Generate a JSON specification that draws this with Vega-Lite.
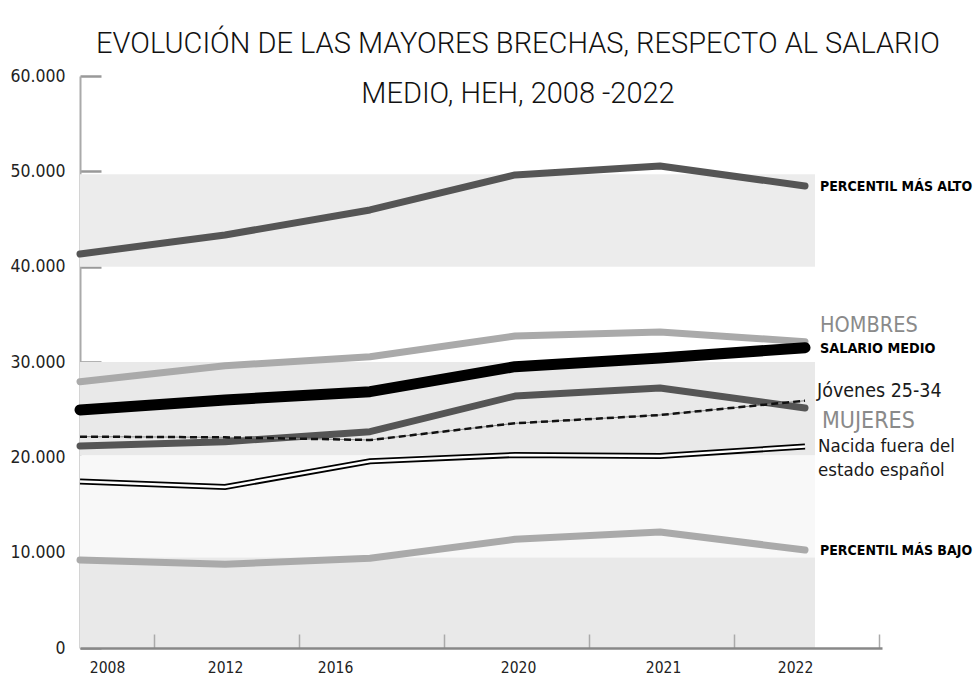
{
  "$schema": "https://vega.github.io/schema/vega-lite/v6.json",
  "autosize": {"type": "none"},
  "padding": {"left": 80, "top": 76, "right": 97, "bottom": 28},
  "width": 802,
  "height": 572,
  "background": "white",
  "title": {
    "text": ["EVOLUCIÓN DE LAS MAYORES BRECHAS, RESPECTO AL SALARIO", "MEDIO, HEH, 2008 -2022"],
    "anchor": "middle",
    "frame": "group",
    "dx": 37,
    "dy": 71,
    "offset": 0,
    "baseline": "bottom",
    "fontSize": 29,
    "lineHeight": 50,
    "font": "Roboto",
    "fontWeight": 300,
    "color": "#111111"
  },
  "datasets": {
    "bands": [
      {"y0": 40000, "y1": 49700, "tone": "plain"},
      {"y0": 20200, "y1": 30000, "tone": "hatched"},
      {"y0": 9500, "y1": 20200, "tone": "white"},
      {"y0": 0, "y1": 9500, "tone": "hatched"}
    ],
    "series": [
      {"serie": "PERCENTIL MÁS ALTO", "year": 2008, "value": 41330},
      {"serie": "PERCENTIL MÁS ALTO", "year": 2012, "value": 43320},
      {"serie": "PERCENTIL MÁS ALTO", "year": 2016, "value": 45950},
      {"serie": "PERCENTIL MÁS ALTO", "year": 2020, "value": 49620},
      {"serie": "PERCENTIL MÁS ALTO", "year": 2021, "value": 50560},
      {"serie": "PERCENTIL MÁS ALTO", "year": 2022, "value": 48460},
      {"serie": "HOMBRES", "year": 2008, "value": 27930},
      {"serie": "HOMBRES", "year": 2012, "value": 29600},
      {"serie": "HOMBRES", "year": 2016, "value": 30560},
      {"serie": "HOMBRES", "year": 2020, "value": 32730},
      {"serie": "HOMBRES", "year": 2021, "value": 33150},
      {"serie": "HOMBRES", "year": 2022, "value": 32130},
      {"serie": "SALARIO MEDIO", "year": 2008, "value": 24970},
      {"serie": "SALARIO MEDIO", "year": 2012, "value": 26020},
      {"serie": "SALARIO MEDIO", "year": 2016, "value": 26890},
      {"serie": "SALARIO MEDIO", "year": 2020, "value": 29510},
      {"serie": "SALARIO MEDIO", "year": 2021, "value": 30420},
      {"serie": "SALARIO MEDIO", "year": 2022, "value": 31500},
      {"serie": "MUJERES", "year": 2008, "value": 21190},
      {"serie": "MUJERES", "year": 2012, "value": 21640},
      {"serie": "MUJERES", "year": 2016, "value": 22690},
      {"serie": "MUJERES", "year": 2020, "value": 26430},
      {"serie": "MUJERES", "year": 2021, "value": 27270},
      {"serie": "MUJERES", "year": 2022, "value": 25180},
      {"serie": "Jóvenes 25-34", "year": 2008, "value": 22170},
      {"serie": "Jóvenes 25-34", "year": 2012, "value": 22100},
      {"serie": "Jóvenes 25-34", "year": 2016, "value": 21820},
      {"serie": "Jóvenes 25-34", "year": 2020, "value": 23570},
      {"serie": "Jóvenes 25-34", "year": 2021, "value": 24440},
      {"serie": "Jóvenes 25-34", "year": 2022, "value": 25940},
      {"serie": "Nacida fuera del estado español", "year": 2008, "value": 17470},
      {"serie": "Nacida fuera del estado español", "year": 2012, "value": 16890},
      {"serie": "Nacida fuera del estado español", "year": 2016, "value": 19590},
      {"serie": "Nacida fuera del estado español", "year": 2020, "value": 20250},
      {"serie": "Nacida fuera del estado español", "year": 2021, "value": 20140},
      {"serie": "Nacida fuera del estado español", "year": 2022, "value": 21140},
      {"serie": "PERCENTIL MÁS BAJO", "year": 2008, "value": 9230},
      {"serie": "PERCENTIL MÁS BAJO", "year": 2012, "value": 8780},
      {"serie": "PERCENTIL MÁS BAJO", "year": 2016, "value": 9410},
      {"serie": "PERCENTIL MÁS BAJO", "year": 2020, "value": 11400},
      {"serie": "PERCENTIL MÁS BAJO", "year": 2021, "value": 12170},
      {"serie": "PERCENTIL MÁS BAJO", "year": 2022, "value": 10280}
    ]
  },
  "layer": [
    {
      "data": {"name": "bands"},
      "mark": {"type": "rect", "x2Offset": 10},
      "encoding": {
        "x": {
          "datum": 2008,
          "type": "ordinal",
          "scale": {"type": "point", "padding": 0.2655, "align": 0},
          "axis": {
            "title": null,
            "grid": false,
            "labelAngle": 0,
            "tickOffset": 74,
            "tickSize": -14,
            "tickColor": "#aaaaaa",
            "tickWidth": 1.5,
            "domainColor": "#888888",
            "domainWidth": 2.5,
            "labelPadding": 26,
            "labelFontSize": 15.5,
            "labelColor": "#222222",
            "labelFont": "DejaVu Sans Condensed",
            "labelOffset": {
              "condition": [
                {"test": "datum.value == 2008", "value": -47},
                {"test": "datum.value == 2012", "value": -74},
                {"test": "datum.value == 2016", "value": -109},
                {"test": "datum.value == 2022", "value": -84}
              ],
              "value": -71
            }
          }
        },
        "x2": {"datum": 2022},
        "y": {
          "field": "y0",
          "type": "quantitative",
          "scale": {"domain": [0, 60000], "nice": false},
          "axis": {
            "title": null,
            "grid": false,
            "values": [0, 10000, 20000, 30000, 40000, 50000, 60000],
            "labelExpr": "replace(format(datum.value, ','), ',', '.')",
            "domainColor": "#aaaaaa",
            "domainWidth": 2,
            "tickColor": "#999999",
            "tickWidth": 2.5,
            "tickSize": -21,
            "labelPadding": 36,
            "labelFontSize": 17.5,
            "labelColor": "#222222",
            "labelFont": "DejaVu Sans Condensed"
          }
        },
        "y2": {"field": "y1"},
        "color": {
          "field": "tone",
          "type": "nominal",
          "scale": {"domain": ["plain", "hatched", "white"], "range": ["#ececec", "#e9e9e9", "#f8f8f8"]},
          "legend": null
        }
      }
    },
    {
      "data": {"name": "series"},
      "transform": [{"filter": "datum.serie == 'HOMBRES' || datum.serie == 'PERCENTIL MÁS BAJO'"}],
      "mark": {"type": "line", "color": "#aaaaaa", "strokeWidth": 7, "strokeCap": "round", "strokeJoin": "round"},
      "encoding": {
        "x": {"field": "year", "type": "ordinal"},
        "y": {"field": "value", "type": "quantitative"},
        "detail": {"field": "serie"}
      }
    },
    {
      "data": {"name": "series"},
      "transform": [{"filter": "datum.serie == 'PERCENTIL MÁS ALTO' || datum.serie == 'MUJERES'"}],
      "mark": {"type": "line", "color": "#555555", "strokeWidth": 7, "strokeCap": "round", "strokeJoin": "round"},
      "encoding": {
        "x": {"field": "year", "type": "ordinal"},
        "y": {"field": "value", "type": "quantitative"},
        "detail": {"field": "serie"}
      }
    },
    {
      "data": {"name": "series"},
      "transform": [{"filter": "datum.serie == 'Nacida fuera del estado español'"}],
      "mark": {"type": "line", "color": "#000000", "strokeWidth": 6},
      "encoding": {
        "x": {"field": "year", "type": "ordinal"},
        "y": {"field": "value", "type": "quantitative"}
      }
    },
    {
      "data": {"name": "series"},
      "transform": [{"filter": "datum.serie == 'Nacida fuera del estado español'"}],
      "mark": {"type": "line", "color": "#ffffff", "strokeWidth": 2.4},
      "encoding": {
        "x": {"field": "year", "type": "ordinal"},
        "y": {"field": "value", "type": "quantitative"}
      }
    },
    {
      "data": {"name": "series"},
      "transform": [{"filter": "datum.serie == 'Jóvenes 25-34'"}],
      "mark": {"type": "line", "color": "#888888", "strokeWidth": 1},
      "encoding": {
        "x": {"field": "year", "type": "ordinal"},
        "y": {"field": "value", "type": "quantitative"}
      }
    },
    {
      "data": {"name": "series"},
      "transform": [{"filter": "datum.serie == 'Jóvenes 25-34'"}],
      "mark": {"type": "line", "color": "#111111", "strokeWidth": 2.5, "strokeDash": [7, 4]},
      "encoding": {
        "x": {"field": "year", "type": "ordinal"},
        "y": {"field": "value", "type": "quantitative"}
      }
    },
    {
      "data": {"name": "series"},
      "transform": [{"filter": "datum.serie == 'SALARIO MEDIO'"}],
      "mark": {"type": "line", "color": "#000000", "strokeWidth": 11, "strokeCap": "round", "strokeJoin": "round"},
      "encoding": {
        "x": {"field": "year", "type": "ordinal"},
        "y": {"field": "value", "type": "quantitative"}
      }
    },
    {
      "data": {"name": "series"},
      "transform": [{"filter": "datum.year == 2022 && (datum.serie == 'PERCENTIL MÁS ALTO' || datum.serie == 'PERCENTIL MÁS BAJO')"}],
      "mark": {"type": "text", "align": "left", "baseline": "middle", "dx": 15, "dy": 1, "fontSize": 14, "fontWeight": "bold", "color": "#000000", "font": "DejaVu Sans Condensed"},
      "encoding": {
        "x": {"field": "year", "type": "ordinal"},
        "y": {"field": "value", "type": "quantitative"},
        "text": {"field": "serie"}
      }
    },
    {
      "data": {"name": "series"},
      "transform": [{"filter": "datum.year == 2022 && datum.serie == 'SALARIO MEDIO'"}],
      "mark": {"type": "text", "align": "left", "baseline": "middle", "dx": 15, "dy": 1, "fontSize": 14.3, "fontWeight": "bold", "color": "#000000", "font": "DejaVu Sans Condensed"},
      "encoding": {
        "x": {"field": "year", "type": "ordinal"},
        "y": {"field": "value", "type": "quantitative"},
        "text": {"field": "serie"}
      }
    },
    {
      "data": {"name": "series"},
      "transform": [{"filter": "datum.year == 2022 && datum.serie == 'HOMBRES'"}],
      "mark": {"type": "text", "align": "left", "baseline": "middle", "dx": 15, "dy": -16, "fontSize": 21.5, "color": "#8a8a8a", "font": "DejaVu Sans Condensed"},
      "encoding": {
        "x": {"field": "year", "type": "ordinal"},
        "y": {"field": "value", "type": "quantitative"},
        "text": {"field": "serie"}
      }
    },
    {
      "data": {"name": "series"},
      "transform": [{"filter": "datum.year == 2022 && datum.serie == 'MUJERES'"}],
      "mark": {"type": "text", "align": "left", "baseline": "middle", "dx": 17, "dy": 13, "fontSize": 23, "color": "#8a8a8a", "font": "DejaVu Sans Condensed"},
      "encoding": {
        "x": {"field": "year", "type": "ordinal"},
        "y": {"field": "value", "type": "quantitative"},
        "text": {"field": "serie"}
      }
    },
    {
      "data": {"name": "series"},
      "transform": [{"filter": "datum.year == 2022 && datum.serie == 'Jóvenes 25-34'"}],
      "mark": {"type": "text", "align": "left", "baseline": "middle", "dx": 12, "dy": -10, "fontSize": 19.5, "color": "#1a1a1a", "font": "DejaVu Sans Condensed"},
      "encoding": {
        "x": {"field": "year", "type": "ordinal"},
        "y": {"field": "value", "type": "quantitative"},
        "text": {"field": "serie"}
      }
    },
    {
      "data": {"name": "series"},
      "transform": [{"filter": "datum.year == 2022 && datum.serie == 'Nacida fuera del estado español'"}],
      "mark": {"type": "text", "align": "left", "baseline": "middle", "dx": 13, "dy": 0, "fontSize": 18.5, "lineHeight": 24, "color": "#1a1a1a", "font": "DejaVu Sans Condensed"},
      "encoding": {
        "x": {"field": "year", "type": "ordinal"},
        "y": {"field": "value", "type": "quantitative"},
        "text": {"value": ["Nacida fuera del", "estado español"]}
      }
    }
  ],
  "config": {
    "view": {"stroke": null},
    "font": "DejaVu Sans Condensed"
  }
}
